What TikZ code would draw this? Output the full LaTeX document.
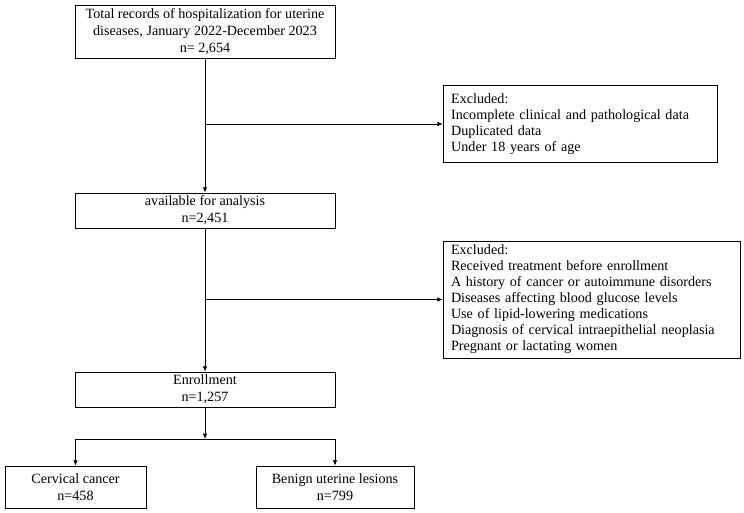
\documentclass[tikz,border=0pt]{standalone}
\usepackage{fontspec}
\setmainfont{Liberation Serif}
\usetikzlibrary{calc, positioning}
\usetikzlibrary{arrows.meta}

\begin{document}
\begin{tikzpicture}[x=0.75pt,y=-0.75pt,
  box/.style={draw,line width=0.6pt,align=center,inner sep=2pt,
    font=\fontsize{10.6pt}{12.8pt}\selectfont},
  exbox/.style={draw,line width=0.6pt,align=left,inner xsep=6pt,inner ysep=2pt,
    font=\fontsize{10.6pt}{12pt}\selectfont},
  arr/.style={line width=0.6pt,-{Latex[length=4pt,width=3.5pt]}}]
\useasboundingbox (0,0) rectangle (744,513);
\def\mainx{205}

\node[box,minimum width=195pt,minimum height=39.75pt] (total) at (\mainx,31.5)
  {Total records of hospitalization for uterine\\diseases, January 2022-December 2023\\n= 2,654};
\node[box,minimum width=195pt,minimum height=26.25pt] (avail) at (\mainx,210.5)
  {available for analysis\\n=2,451};
\node[box,minimum width=195pt,minimum height=26.25pt] (enrol) at (\mainx,389.5)
  {Enrollment\\n=1,257};
\node[box,minimum width=105.75pt,minimum height=31.5pt] (cervix) at (75.5,487)
  {Cervical cancer\\n=458};
\node[box,minimum width=118.5pt,minimum height=31.5pt] (benign) at (335,487)
  {Benign uterine lesions\\n=799};

\node[exbox,text width=194pt,minimum height=57.75pt] (excla) at (580.5,124)
  {Excluded:\\Incomplete clinical and pathological data\\Duplicated data\\Under 18 years of age};
\node[exbox,text width=210.75pt,minimum height=87.75pt] (exclb) at (591.5,299.5)
  {Excluded:\\Received treatment before enrollment\\A history of cancer or autoimmune disorders\\Diseases affecting blood glucose levels\\Use of lipid-lowering medications\\Diagnosis of cervical intraepithelial neoplasia\\Pregnant or lactating women};

\coordinate (split) at (\mainx,439);

\draw[arr] (total.south) -- (avail.north);
\draw[arr] (total.south |- excla.west) -- (excla.west);
\draw[arr] (avail.south) -- (enrol.north);
\draw[arr] (avail.south |- exclb.west) -- (exclb.west);
\draw[arr] (enrol.south) -- (split);
\draw[arr] (split) -| (cervix.north);
\draw[arr] (split) -| (benign.north);
\end{tikzpicture}
\end{document}
